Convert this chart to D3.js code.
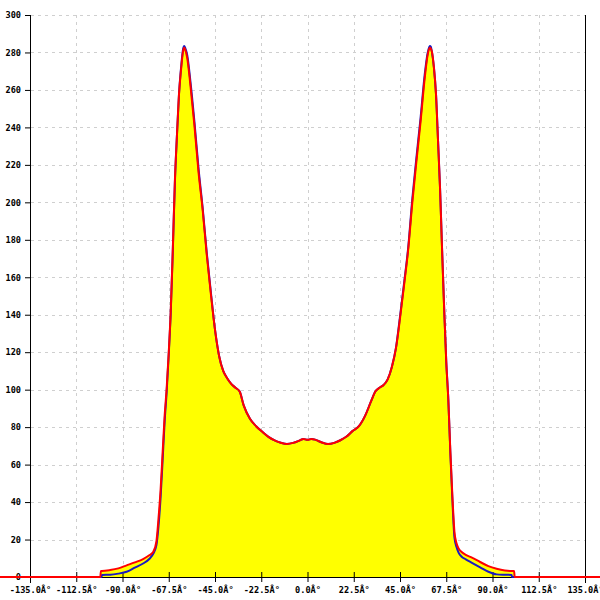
<!DOCTYPE html>
<html>
<head>
<meta charset="utf-8">
<script src="https://cdn.jsdelivr.net/npm/d3@7"></script>
<style>
html,body{margin:0;padding:0;background:#fff;}
svg{display:block;}
text{font-family:"DejaVu Sans Mono","Liberation Mono",monospace;font-size:8.6px;fill:#000;}
</style>
</head>
<body>
<svg id="chart" width="600" height="600"></svg>
<script>
const angles = [-150, -100.8, -100.5, -100.2, -100, -96, -92, -88, -84, -80, -77, -75, -73.5, -72.5, -71.5, -70.5, -69.5, -68.5, -67.5, -66.5, -65.5, -64.5, -63.5, -62.5, -61.5, -60.5, -60, -59.5, -58.5, -57, -55, -53, -51, -49, -47, -45, -43, -41, -39, -37, -35, -33, -31, -28, -25, -22, -19, -16, -13, -10, -7, -4, -2, 0, 2, 4, 7, 10, 13, 16, 19, 22, 25, 28, 31, 33, 35, 37, 39, 41, 43, 45, 47, 49, 51, 53, 55, 57, 58.5, 59.5, 60, 60.5, 61.5, 62.5, 63.5, 64.5, 65.5, 66.5, 67.5, 68.5, 69.5, 70.5, 71.5, 72.5, 73.5, 75, 77, 80, 84, 88, 92, 96, 99.3, 99.5, 100.5, 100.8, 150];

const redValues = [0, 0, 3.2, 3.2, 3.2, 3.7, 4.6, 6.2, 7.8, 9.6, 11.6, 13.5, 19, 31, 46, 66, 86, 101, 120, 143, 176, 212, 236, 258, 271, 281, 282.5, 281.5, 277, 263, 241, 216, 196, 172, 151, 132, 118, 110, 106, 103, 101, 99, 91.5, 84.5, 80.5, 77.5, 74.8, 72.9, 71.7, 71, 71.6, 72.8, 73.7, 73.2, 73.7, 73.2, 71.8, 71, 71.6, 73, 75, 78, 80.5, 86, 94, 99, 101, 102.5, 105.5, 112, 122, 138, 156, 175, 200, 222, 243, 266, 279, 282.5, 282, 280.5, 272, 258, 233, 207, 174, 143, 115, 95, 67, 43, 24, 18, 15.3, 13.3, 11.8, 10.3, 8, 5.8, 4.4, 3.5, 3.2, 3.2, 3.2, 0, 0];

const blueValues = [0, 0, 0, 0, 1.1, 1.2, 1.8, 2.8, 5, 7.2, 9.6, 12.5, 17, 27, 42, 62, 83, 99, 119, 142, 175, 211, 236, 258, 272, 282, 283.5, 282.5, 278.5, 265, 243, 218, 197, 173, 152, 132, 118, 110, 106, 103, 101, 99, 91.5, 84.5, 80.5, 77.5, 74.8, 72.9, 71.7, 71, 71.6, 72.8, 73.7, 73.2, 73.7, 73.2, 71.8, 71, 71.6, 73, 75, 78, 80.5, 86, 94, 99, 101, 102.5, 105.5, 112, 122, 139, 157, 176, 202, 224, 245, 268, 280, 283.5, 283, 280.5, 272, 258, 233, 207, 174, 143, 115, 95, 66, 41, 21, 16, 13, 10.8, 9.4, 7.6, 5.2, 2.8, 1.4, 1.2, 1.1, 0, 0, 0, 0];

const xTicks = [-135, -112.5, -90, -67.5, -45, -22.5, 0, 22.5, 45, 67.5, 90, 112.5, 135];
const yTicks = [0, 20, 40, 60, 80, 100, 120, 140, 160, 180, 200, 220, 240, 260, 280, 300];

const svg = d3.select("#chart");
const x = d3.scaleLinear().domain([-135, 135]).range([30, 585]);
const y = d3.scaleLinear().domain([0, 300]).range([577, 15]);

const red = angles.map((a, i) => ({a, v: redValues[i]}));
const blue = angles.map((a, i) => ({a, v: blueValues[i]}));

// grid
const grid = svg.append("g").attr("stroke", "#cfcfcf").attr("stroke-dasharray", "3,4").attr("stroke-width", 1);
grid.selectAll("line.h").data(yTicks.filter(d => d > 0)).join("line")
  .attr("x1", 31).attr("x2", 585)
  .attr("y1", d => Math.round(y(d)) + 0.5).attr("y2", d => Math.round(y(d)) + 0.5);
grid.selectAll("line.v").data(xTicks.slice(1, -1)).join("line")
  .attr("y1", 15).attr("y2", 577)
  .attr("x1", d => Math.round(x(d)) + 0.5).attr("x2", d => Math.round(x(d)) + 0.5);

// fill
const area = d3.area().x(d => x(d.a)).y0(y(0)).y1(d => y(d.v)).curve(d3.curveMonotoneX);
svg.append("path").datum(red).attr("d", area).attr("fill", "#ffff00");

// axes
const xAxis = d3.axisBottom(x).tickValues(xTicks).tickSize(5).tickSizeOuter(0)
  .tickFormat(d => d.toFixed(1) + "Â°");
const gx = svg.append("g").attr("transform", "translate(0,577)").call(xAxis);
gx.select(".domain").attr("stroke", "#000");
gx.selectAll(".tick line").attr("y1", -5).attr("y2", 5).attr("stroke", "#000");
gx.selectAll(".tick text").attr("y", 10).attr("dy", "0.71em")
  .style("font-family", "DejaVu Sans Mono, monospace").style("font-size", "8.6px").style("font-weight", "bold");

const yAxis = d3.axisLeft(y).tickValues(yTicks).tickSize(5).tickSizeOuter(0);
const gy = svg.append("g").attr("transform", "translate(30,0)").call(yAxis);
gy.select(".domain").attr("stroke", "#000");
gy.selectAll(".tick line").attr("stroke", "#000");
gy.selectAll(".tick text").attr("x", -9)
  .style("font-family", "DejaVu Sans Mono, monospace").style("font-size", "8.6px").style("font-weight", "bold");
gy.select(".domain").attr("d", "M0.5,15V583");

svg.append("line").attr("x1", 585.5).attr("x2", 585.5).attr("y1", 15).attr("y2", 583)
  .attr("stroke", "#000");

// lines
const line = d3.line().x(d => x(d.a)).y(d => y(d.v)).curve(d3.curveMonotoneX);
svg.append("path").datum(blue).attr("d", line).attr("fill", "none")
  .attr("stroke", "#1a1ac0").attr("stroke-width", 2);
svg.append("path").datum(red).attr("d", line).attr("fill", "none")
  .attr("stroke", "#ff0000").attr("stroke-width", 2);
</script>
</body>
</html>
